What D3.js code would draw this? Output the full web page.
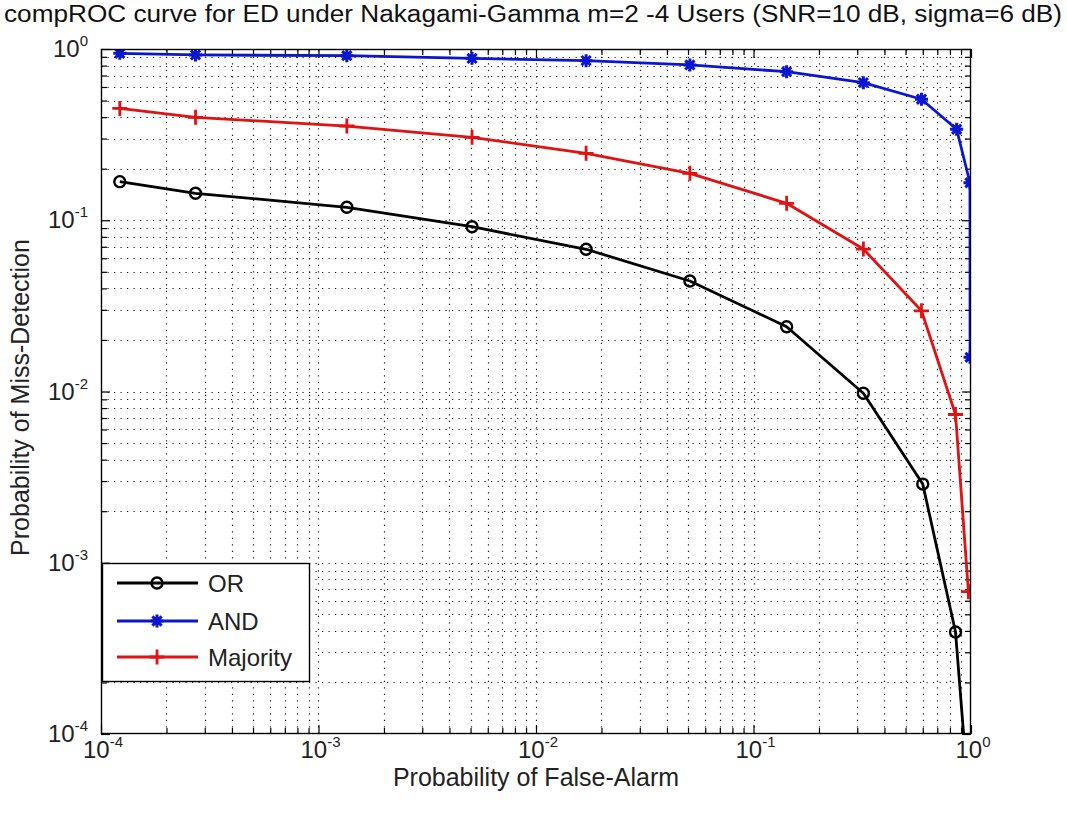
<!DOCTYPE html>
<html>
<head>
<meta charset="utf-8">
<script src="https://cdn.jsdelivr.net/npm/d3@7"></script>
<style>
  html, body { margin: 0; padding: 0; background: #fff; }
  svg { display: block; font-family: "Liberation Sans", Arial, Helvetica, sans-serif; }
</style>
</head>
<body>
<svg id="chart" width="1067" height="818"></svg>
<script>
// ---- data: probability of false alarm vs probability of miss-detection ----
const pfaOR  = [1.22e-4, 2.72e-4, 1.35e-3, 5.08e-3, 0.0170, 0.0510, 0.142, 0.320, 0.600, 0.849, 0.973];
const pmdOR  = [0.168, 0.1437, 0.119, 0.0917, 0.0677, 0.0442, 0.0239, 0.00976, 0.00288, 3.94e-4, 4.4e-5];

const pfaAND = [1.22e-4, 2.72e-4, 1.35e-3, 5.08e-3, 0.0170, 0.0510, 0.142, 0.320, 0.592, 0.859, 0.989, 0.990];
const pmdAND = [0.944, 0.923, 0.914, 0.882, 0.855, 0.807, 0.737, 0.636, 0.509, 0.340, 0.1656, 0.01584];

const pfaMAJ = [1.22e-4, 2.72e-4, 1.35e-3, 5.08e-3, 0.0170, 0.0510, 0.142, 0.320, 0.592, 0.849, 0.973];
const pmdMAJ = [0.450, 0.399, 0.355, 0.305, 0.246, 0.188, 0.1256, 0.0679, 0.0296, 0.00734, 6.78e-4];

const seriesNames = ["OR", "AND", "Majority"];
const xDecades = [-4, -3, -2, -1, 0];
const yDecades = [-4, -3, -2, -1, 0];

const titleText = "compROC curve for ED under Nakagami-Gamma m=2 -4 Users (SNR=10 dB, sigma=6 dB)";
const xLabelText = "Probability of False-Alarm";
const yLabelText = "Probability of Miss-Detection";

// ---- layout ----
const plot = { left: 101, top: 49, right: 971, bottom: 734 };
const svg = d3.select("#chart");

const x = d3.scaleLog().domain([1e-4, 1]).range([plot.left, plot.right]);
const y = d3.scaleLog().domain([1e-4, 1]).range([plot.bottom, plot.top]);

const majorX = xDecades.map(e => Math.pow(10, e));
const majorY = yDecades.map(e => Math.pow(10, e));
const minorOf = decs => {
  const out = [];
  decs.slice(0, -1).forEach(e => { for (let k = 2; k <= 9; k++) out.push(k * Math.pow(10, e)); });
  return out;
};
const minorX = minorOf(xDecades);
const minorY = minorOf(yDecades);

// plot background
svg.append("rect").attr("x", plot.left).attr("y", plot.top)
  .attr("width", plot.right - plot.left).attr("height", plot.bottom - plot.top)
  .attr("fill", "#fff");

// ---- dotted grid (major + minor) ----
const grid = svg.append("g").attr("stroke", "#1a1a1a").attr("stroke-width", 1.2)
  .attr("stroke-dasharray", "1.2,5.3").attr("fill", "none");
grid.selectAll("line.gx").data(majorX.concat(minorX).filter(v => v > 1e-4 && v < 1)).join("line")
  .attr("x1", d => Math.round(x(d)) + 0.5).attr("x2", d => Math.round(x(d)) + 0.5)
  .attr("y1", plot.bottom).attr("y2", plot.top);
grid.selectAll("line.gy").data(majorY.concat(minorY).filter(v => v > 1e-4 && v < 1)).join("line")
  .attr("y1", d => Math.round(y(d)) + 0.5).attr("y2", d => Math.round(y(d)) + 0.5)
  .attr("x1", plot.left).attr("x2", plot.right);

// ---- ticks on all four sides (inward) ----
const H = plot.bottom - plot.top, W = plot.right - plot.left;
function tickAxis(axisFn, scale, values, size, tx, ty) {
  const g = svg.append("g").attr("transform", `translate(${tx},${ty})`)
    .call(axisFn(scale).tickValues(values).tickSize(size).tickFormat(""));
  g.select(".domain").remove();
  g.selectAll("line").attr("stroke", "#000").attr("stroke-width", 1.2);
}
tickAxis(d3.axisBottom, x, majorX, -9, 0, plot.bottom);
tickAxis(d3.axisBottom, x, minorX, -6, 0, plot.bottom);
tickAxis(d3.axisTop, x, majorX, -9, 0, plot.top);
tickAxis(d3.axisTop, x, minorX, -6, 0, plot.top);
tickAxis(d3.axisLeft, y, majorY, -9, plot.left, 0);
tickAxis(d3.axisLeft, y, minorY, -6, plot.left, 0);
tickAxis(d3.axisRight, y, majorY, -9, plot.right, 0);
tickAxis(d3.axisRight, y, minorY, -6, plot.right, 0);

// ---- tick labels 10^n ----
function powerLabel(g, exp) {
  g.append("tspan").attr("font-size", 24).text("10");
  g.append("tspan").attr("font-size", 15).attr("dy", -11).text(exp);
}
xDecades.forEach(e => {
  const t = svg.append("text").attr("x", x(Math.pow(10, e)) + 2).attr("y", 758)
    .attr("text-anchor", "middle").attr("fill", "#222");
  powerLabel(t, String(e));
});
yDecades.forEach(e => {
  const t = svg.append("text").attr("x", plot.left - 13).attr("y", y(Math.pow(10, e)) + 8)
    .attr("text-anchor", "end").attr("fill", "#222");
  powerLabel(t, String(e));
});

// ---- curves ----
svg.append("clipPath").attr("id", "plotClip").append("rect")
  .attr("x", plot.left).attr("y", plot.top).attr("width", W).attr("height", H);

const series = [
  { name: seriesNames[0], xs: pfaOR,  ys: pmdOR,  color: "#000000", marker: "circle" },
  { name: seriesNames[1], xs: pfaAND, ys: pmdAND, color: "#0a16d0", marker: "star" },
  { name: seriesNames[2], xs: pfaMAJ, ys: pmdMAJ, color: "#e01212", marker: "plus" }
];

const line = d3.line().x(d => x(d[0])).y(d => y(d[1]));

function drawMarker(g, kind, cx, cy, color) {
  if (kind === "circle") {
    g.append("circle").attr("cx", cx).attr("cy", cy).attr("r", 5.5)
      .attr("fill", "none").attr("stroke", color).attr("stroke-width", 2.4);
  } else if (kind === "plus") {
    const s = 7.5;
    g.append("path").attr("d", `M${cx - s},${cy}H${cx + s}M${cx},${cy - s}V${cy + s}`)
      .attr("stroke", color).attr("stroke-width", 2.8).attr("fill", "none");
  } else {
    const s = 6.5, d = 4.6;
    g.append("path")
      .attr("d", `M${cx - s},${cy}H${cx + s}M${cx},${cy - s}V${cy + s}M${cx - d},${cy - d}L${cx + d},${cy + d}M${cx - d},${cy + d}L${cx + d},${cy - d}`)
      .attr("stroke", color).attr("stroke-width", 3).attr("fill", "none");
    g.append("circle").attr("cx", cx).attr("cy", cy).attr("r", 3).attr("fill", color);
  }
}

const curves = svg.append("g").attr("clip-path", "url(#plotClip)");
series.forEach(s => {
  const pts = s.xs.map((v, i) => [v, s.ys[i]]);
  curves.append("path").datum(pts).attr("d", line)
    .attr("fill", "none").attr("stroke", s.color).attr("stroke-width", 2.8)
    .attr("stroke-linejoin", "round");
  pts.forEach(p => drawMarker(curves, s.marker, x(p[0]), y(p[1]), s.color));
});

// ---- axes box ----
svg.append("rect").attr("x", plot.left + 0.5).attr("y", plot.top + 0.5)
  .attr("width", W - 1).attr("height", H - 1)
  .attr("fill", "none").attr("stroke", "#000").attr("stroke-width", 1.4);

// ---- legend ----
const lg = svg.append("g");
lg.append("rect").attr("x", 102.5).attr("y", 563.5).attr("width", 207).attr("height", 118)
  .attr("fill", "#fff").attr("stroke", "#000").attr("stroke-width", 1.4);
const rowsY = [583, 621, 657];
series.forEach((s, i) => {
  const yy = rowsY[i];
  lg.append("line").attr("x1", 117).attr("x2", 198).attr("y1", yy).attr("y2", yy)
    .attr("stroke", s.color).attr("stroke-width", 2.8);
  drawMarker(lg, s.marker, 157, yy, s.color);
  lg.append("text").attr("x", 208).attr("y", yy + 8.5).attr("font-size", 24)
    .attr("fill", "#222").text(s.name);
});

// ---- title and axis labels ----
svg.append("text").attr("x", 533).attr("y", 22).attr("text-anchor", "middle")
  .attr("font-size", 23).attr("fill", "#111")
  .attr("textLength", 1058).attr("lengthAdjust", "spacingAndGlyphs").text(titleText);
svg.append("text").attr("x", (plot.left + plot.right) / 2).attr("y", 786)
  .attr("text-anchor", "middle").attr("font-size", 25).attr("fill", "#222").text(xLabelText);
svg.append("text").attr("transform", `translate(29,${(plot.top + plot.bottom) / 2 + 6}) rotate(-90)`)
  .attr("text-anchor", "middle").attr("font-size", 25).attr("fill", "#222").text(yLabelText);
</script>
</body>
</html>
